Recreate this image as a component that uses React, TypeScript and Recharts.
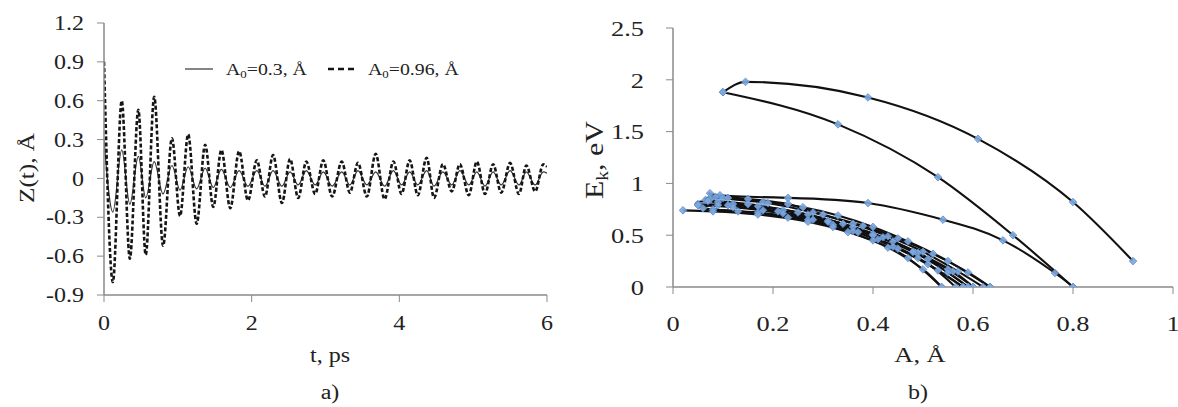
import React from 'react';
import { LineChart, Line, XAxis, YAxis } from 'recharts';

// ---------- Panel a) : Z(t) oscillations ----------
const timePs = [
  0, 0.12, 0.24, 0.35, 0.465, 0.565, 0.68, 0.8,
  0.92, 1.03, 1.14, 1.255, 1.37, 1.48, 1.59, 1.71,
  1.83, 1.95, 2.07, 2.18, 2.29, 2.41, 2.52, 2.63,
  2.74, 2.86, 2.97, 3.09, 3.22, 3.33, 3.44, 3.56,
  3.68, 3.8, 3.92, 4.03, 4.14, 4.25, 4.37, 4.47,
  4.59, 4.71, 4.82, 4.94, 5.05, 5.16, 5.27, 5.38,
  5.5, 5.62, 5.72, 5.84, 5.95, 6.0,
];
const zA096 = [
  0.9, -0.8, 0.6, -0.62, 0.53, -0.59, 0.63, -0.52,
  0.31, -0.29, 0.34, -0.35, 0.26, -0.22, 0.22, -0.23,
  0.21, -0.17, 0.14, -0.14, 0.18, -0.19, 0.15, -0.15,
  0.13, -0.12, 0.14, -0.14, 0.13, -0.11, 0.12, -0.14,
  0.19, -0.16, 0.13, -0.12, 0.14, -0.13, 0.16, -0.15,
  0.11, -0.1, 0.11, -0.13, 0.13, -0.12, 0.11, -0.11,
  0.12, -0.12, 0.1, -0.1, 0.11, 0.09,
];
const zA03 = [
  0.3, -0.26, 0.22, -0.2, 0.17, -0.15, 0.13, -0.12,
  0.1, -0.09, 0.09, -0.08, 0.08, -0.07, 0.07, -0.07,
  0.06, -0.06, 0.06, -0.06, 0.06, -0.06, 0.05, -0.05,
  0.06, -0.05, 0.05, -0.06, 0.05, -0.05, 0.06, -0.05,
  0.05, -0.06, 0.06, -0.05, 0.05, -0.05, 0.06, -0.06,
  0.05, -0.05, 0.06, -0.05, 0.05, -0.06, 0.05, -0.05,
  0.06, -0.05, 0.05, -0.05, 0.05, 0.04,
];
const leftXTicks = [0, 2, 4, 6];
const leftYTicks = [-0.9, -0.6, -0.3, 0, 0.3, 0.6, 0.9, 1.2];

// ---------- Panel b) : Ek vs A ----------
// big loop, split at its left tip into upper and lower branch
const bigUpperA = [0.92, 0.8, 0.61, 0.39, 0.145, 0.1];
const bigUpperE = [0.25, 0.82, 1.43, 1.83, 1.98, 1.88];
const bigLowerA = [0.1, 0.33, 0.53, 0.68, 0.8];
const bigLowerE = [1.88, 1.57, 1.06, 0.5, 0.0];
const midLoopA = [0.8, 0.764, 0.66, 0.54, 0.39, 0.23, 0.094, 0.074, 0.1, 0.18, 0.26, 0.33, 0.4, 0.47, 0.55, 0.634];
const midLoopE = [0.0, 0.135, 0.45, 0.65, 0.81, 0.86, 0.885, 0.905, 0.86, 0.82, 0.77, 0.69, 0.58, 0.44, 0.25, 0.0];
const loop3A = [0.634, 0.59, 0.52, 0.45, 0.38, 0.3, 0.23, 0.15, 0.085, 0.065, 0.12, 0.22, 0.31, 0.4, 0.48, 0.55, 0.6];
const loop3E = [0.0, 0.14, 0.32, 0.47, 0.59, 0.7, 0.8, 0.85, 0.87, 0.84, 0.8, 0.74, 0.64, 0.51, 0.34, 0.17, 0.0];
const loop4A = [0.62, 0.57, 0.5, 0.43, 0.36, 0.28, 0.19, 0.11, 0.075, 0.09, 0.17, 0.27, 0.36, 0.44, 0.51, 0.59];
const loop4E = [0.0, 0.15, 0.34, 0.49, 0.61, 0.72, 0.81, 0.86, 0.85, 0.82, 0.78, 0.7, 0.58, 0.44, 0.27, 0.0];
const loop5A = [0.6, 0.56, 0.49, 0.42, 0.34, 0.25, 0.15, 0.07, 0.05, 0.12, 0.22, 0.32, 0.41, 0.49, 0.58];
const loop5E = [0.0, 0.15, 0.33, 0.48, 0.61, 0.72, 0.8, 0.83, 0.8, 0.77, 0.71, 0.6, 0.46, 0.28, 0.0];
const loop6A = [0.59, 0.55, 0.48, 0.4, 0.31, 0.21, 0.11, 0.05, 0.08, 0.17, 0.27, 0.36, 0.44, 0.51, 0.565];
const loop6E = [0.0, 0.14, 0.34, 0.5, 0.63, 0.73, 0.79, 0.79, 0.75, 0.72, 0.65, 0.54, 0.39, 0.22, 0.0];
const loop7A = [0.58, 0.53, 0.45, 0.37, 0.28, 0.18, 0.09, 0.06, 0.13, 0.23, 0.32, 0.4, 0.47, 0.537];
const loop7E = [0.0, 0.16, 0.37, 0.53, 0.65, 0.74, 0.79, 0.76, 0.73, 0.67, 0.58, 0.45, 0.28, 0.0];
const tailA = [0.537, 0.5, 0.43, 0.35, 0.27, 0.17, 0.08, 0.02];
const tailE = [0.0, 0.17, 0.38, 0.53, 0.63, 0.7, 0.73, 0.74];
const rightXTicks = [0, 0.2, 0.4, 0.6, 0.8, 1];
const rightYTicks = [0, 0.5, 1, 1.5, 2, 2.5];

// ---------- styling ----------
const FONT = '"Liberation Serif", "Times New Roman", serif';
const TEXT = '#222';
const AXIS = '#8a8a8a';
const SX = 1.2;

const leftData = timePs.map((t, i) => ({ t, z096: zA096[i], z03: zA03[i] }));
const toPts = (a: number[], e: number[]) => a.map((v, i) => ({ a: v, e: e[i] }));
const curves: { pts: { a: number; e: number }[]; type: 'monotone' | 'natural' }[] = [
  { pts: toPts(bigUpperA, bigUpperE), type: 'monotone' },
  { pts: toPts(bigLowerA, bigLowerE), type: 'monotone' },
  { pts: toPts(midLoopA, midLoopE), type: 'natural' },
  { pts: toPts(loop3A, loop3E), type: 'natural' },
  { pts: toPts(loop4A, loop4E), type: 'natural' },
  { pts: toPts(loop5A, loop5E), type: 'natural' },
  { pts: toPts(loop6A, loop6E), type: 'natural' },
  { pts: toPts(loop7A, loop7E), type: 'natural' },
  { pts: toPts(tailA, tailE), type: 'natural' },
];

const makeTick = (fontSize: number, axis: 'x' | 'y') => (props: any) => {
  const { x, y, payload } = props;
  return (
    <g transform={`translate(${x},${y}) scale(${SX},1)`}>
      <text
        x={0}
        y={0}
        dy={axis === 'x' ? '0.71em' : '0.355em'}
        textAnchor={axis === 'x' ? 'middle' : 'end'}
        fontSize={fontSize}
        fontFamily={FONT}
        fill={TEXT}
      >
        {String(payload.value)}
      </text>
    </g>
  );
};

const Diamond = (props: any) => {
  const { cx, cy, index } = props;
  if (cx == null || cy == null) return <g key={`d${index}`} />;
  const r = 3.8;
  return (
    <path
      key={`d${index}`}
      d={`M${cx},${cy - r}L${cx + r},${cy}L${cx},${cy + r}L${cx - r},${cy}Z`}
      fill="#7eaadf"
      stroke="#5a8acb"
      strokeWidth={0.8}
      fillOpacity={0.9}
    />
  );
};

const Title = ({ x, y, size, rotate, children }: any) => (
  <div
    style={{
      position: 'absolute',
      left: x,
      top: y,
      transform: `translate(-50%,-50%)${rotate ? ' rotate(-90deg)' : ''} scale(${SX},1)`,
      fontFamily: FONT,
      fontSize: size,
      color: TEXT,
      whiteSpace: 'nowrap',
      lineHeight: 1,
    }}
  >
    {children}
  </div>
);

const Sub = ({ children }: any) => (
  <span style={{ fontSize: '0.65em', position: 'relative', top: '0.3em' }}>{children}</span>
);

const axisLine = { stroke: AXIS, strokeWidth: 1.5 };

export default function App() {
  return (
    <div
      style={{
        position: 'absolute',
        left: 0,
        top: 0,
        width: 1178,
        height: 407,
        background: '#fff',
        overflow: 'hidden',
      }}
    >
      <div style={{ position: 'absolute', left: 0, top: 0 }}>
        <LineChart width={570} height={340} data={leftData} margin={{ top: 23, right: 23, bottom: 15, left: 0 }}>
          <XAxis
            dataKey="t"
            type="number"
            domain={[0, 6]}
            ticks={leftXTicks}
            interval={0}
            allowDataOverflow
            height={30}
            tickSize={7}
            tickMargin={14}
            axisLine={axisLine}
            tickLine={{ stroke: AXIS }}
            tick={makeTick(20, 'x')}
          />
          <XAxis
            xAxisId="top"
            orientation="top"
            type="number"
            domain={[0, 6]}
            height={0}
            tick={false}
            tickLine={false}
            axisLine={axisLine}
          />
          <YAxis
            type="number"
            domain={[-0.9, 1.2]}
            ticks={leftYTicks}
            interval={0}
            allowDataOverflow
            width={104}
            tickSize={7}
            tickMargin={13}
            axisLine={axisLine}
            tickLine={{ stroke: AXIS }}
            tick={makeTick(20, 'y')}
          />
          <YAxis
            yAxisId="right"
            orientation="right"
            type="number"
            domain={[-0.9, 1.2]}
            width={0}
            tick={false}
            tickLine={false}
            axisLine={axisLine}
          />
          <Line
            dataKey="z03"
            type="monotone"
            stroke="#333"
            strokeWidth={1.2}
            dot={false}
            isAnimationActive={false}
          />
          <Line
            dataKey="z096"
            type="monotone"
            stroke="#151515"
            strokeWidth={2.6}
            strokeDasharray="4 2.2"
            dot={false}
            isAnimationActive={false}
          />
        </LineChart>
      </div>

      <div style={{ position: 'absolute', left: 580, top: 0 }}>
        <LineChart
          width={598}
          height={340}
          margin={{ top: 28, right: 5, bottom: 13, left: 0 }}
          style={{ overflow: 'visible' }}
        >
          <XAxis
            dataKey="a"
            type="number"
            domain={[0, 1]}
            ticks={rightXTicks}
            interval={0}
            allowDataOverflow
            height={40}
            tickSize={7}
            tickMargin={21}
            axisLine={axisLine}
            tickLine={{ stroke: AXIS }}
            tick={makeTick(22, 'x')}
          />
          <XAxis
            xAxisId="top"
            orientation="top"
            type="number"
            domain={[0, 1]}
            height={0}
            tick={false}
            tickLine={false}
            axisLine={axisLine}
          />
          <YAxis
            type="number"
            domain={[0, 2.5]}
            ticks={rightYTicks}
            interval={0}
            allowDataOverflow
            width={93}
            tickSize={7}
            tickMargin={22}
            axisLine={axisLine}
            tickLine={{ stroke: AXIS }}
            tick={makeTick(22, 'y')}
          />
          <YAxis
            yAxisId="right"
            orientation="right"
            type="number"
            domain={[0, 2.5]}
            width={0}
            tick={false}
            tickLine={false}
            axisLine={axisLine}
          />
          {curves.map((c, i) => (
            <Line
              key={i}
              data={c.pts}
              dataKey="e"
              type={c.type}
              stroke="#111"
              strokeWidth={2.1}
              dot={Diamond}
              activeDot={false}
              isAnimationActive={false}
            />
          ))}
        </LineChart>
      </div>

      {/* legend of panel a) */}
      <svg style={{ position: 'absolute', left: 184, top: 62 }} width={30} height={14}>
        <line x1={1} y1={7} x2={29} y2={7} stroke="#333" strokeWidth={1.2} />
      </svg>
      <div
        style={{
          position: 'absolute',
          left: 226,
          top: 70,
          transform: `translateY(-50%) scale(${SX},1)`,
          transformOrigin: 'left center',
          fontFamily: FONT,
          fontSize: 16.5,
          color: TEXT,
          whiteSpace: 'nowrap',
          lineHeight: 1,
        }}
      >
        A<Sub>0</Sub>=0.3, Å
      </div>
      <svg style={{ position: 'absolute', left: 327, top: 62 }} width={32} height={14}>
        <line x1={1} y1={7} x2={31} y2={7} stroke="#151515" strokeWidth={2.6} strokeDasharray="6 4" />
      </svg>
      <div
        style={{
          position: 'absolute',
          left: 368,
          top: 70,
          transform: `translateY(-50%) scale(${SX},1)`,
          transformOrigin: 'left center',
          fontFamily: FONT,
          fontSize: 16.5,
          color: TEXT,
          whiteSpace: 'nowrap',
          lineHeight: 1,
        }}
      >
        A<Sub>0</Sub>=0.96, Å
      </div>

      {/* axis titles and panel labels */}
      <Title x={27} y={168} size={21} rotate>
        Z(t), Å
      </Title>
      <Title x={330} y={355} size={20}>
        t, ps
      </Title>
      <Title x={330} y={392} size={20}>
        a)
      </Title>
      <Title x={594} y={160} size={25} rotate>
        E<Sub>k</Sub>, eV
      </Title>
      <Title x={920} y={355} size={22}>
        A, Å
      </Title>
      <Title x={918} y={392} size={20}>
        b)
      </Title>
    </div>
  );
}
